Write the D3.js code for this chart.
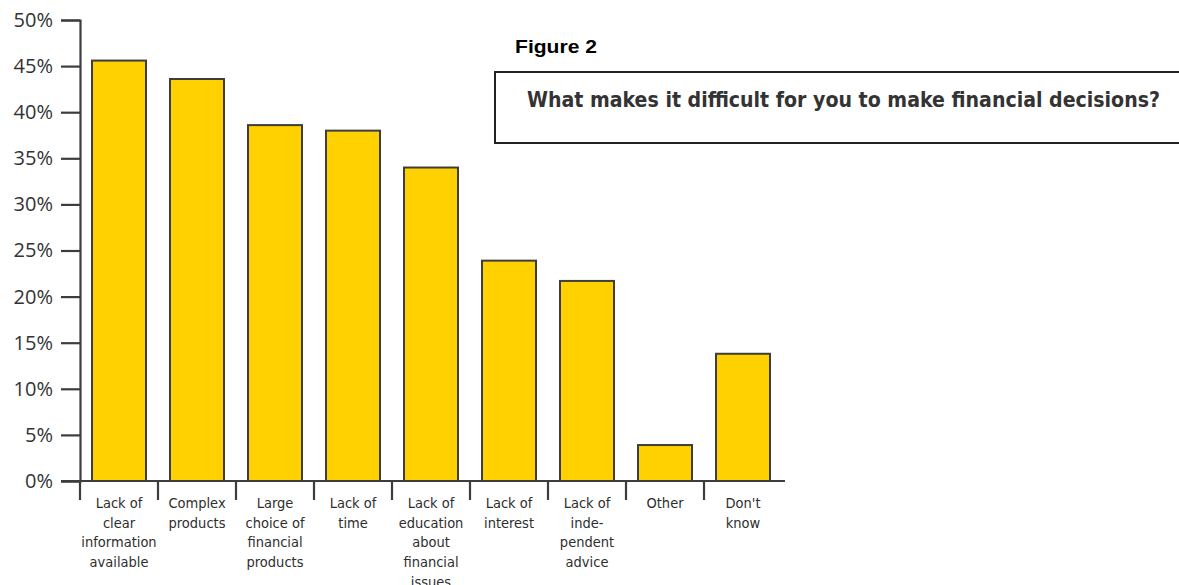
<!DOCTYPE html>
<html>
<head>
<meta charset="utf-8">
<script src="https://cdn.jsdelivr.net/npm/d3@7"></script>
<style>
  html, body { margin: 0; padding: 0; background: #fff; }
  svg { display: block; }
</style>
</head>
<body>
<svg id="chart" width="1179" height="585"></svg>
<script>
// Survey answers: what makes financial decisions difficult
const categories = [
  ["Lack of", "clear", "information", "available"],
  ["Complex", "products"],
  ["Large", "choice of", "financial", "products"],
  ["Lack of", "time"],
  ["Lack of", "education", "about", "financial", "issues"],
  ["Lack of", "interest"],
  ["Lack of", "inde-", "pendent", "advice"],
  ["Other"],
  ["Don't", "know"]
];
const shares = [45.6, 43.6, 38.6, 38.0, 34.0, 23.9, 21.7, 3.9, 13.8];
const yTicks = [0, 5, 10, 15, 20, 25, 30, 35, 40, 45, 50];
const figureLabel = "Figure 2";
const question = "What makes it difficult for you to make financial decisions?";

const svg = d3.select("#chart");
const ink = "#3d3d3d";
const narrow = "'Liberation Sans Narrow', 'DejaVu Sans Condensed', 'Liberation Sans', sans-serif";

const x0 = 80, x1 = 782, yTop = 20, yBase = 481;
const keys = categories.map((c, i) => i);

const x = d3.scaleBand()
  .domain(keys)
  .range([x0, x1])
  .paddingInner(0.3077)
  .paddingOuter(0.1538);

const y = d3.scaleLinear().domain([0, 50]).range([yBase, yTop]);

// Bars
svg.append("g")
  .selectAll("rect")
  .data(shares)
  .join("rect")
  .attr("x", (d, i) => x(i))
  .attr("y", d => y(d))
  .attr("width", x.bandwidth())
  .attr("height", d => y(0) - y(d))
  .attr("fill", "#FFD100")
  .attr("stroke", ink)
  .attr("stroke-width", 2);

// Y axis: ticks point left, labels right-aligned
const yAxis = svg.append("g")
  .attr("transform", `translate(${x0},0)`)
  .call(d3.axisLeft(y).tickValues(yTicks).tickFormat(d => d + "%").tickSize(19).tickPadding(8));
yAxis.select(".domain").attr("stroke", ink).attr("stroke-width", 2.2);
yAxis.selectAll(".tick line").attr("stroke", ink).attr("stroke-width", 2.2);
yAxis.selectAll(".tick text")
  .attr("fill", "#333")
  .style("font-family", "'Open Sans', 'Liberation Sans', sans-serif")
  .style("font-size", "20px");

// X axis: baseline with tick marks at band boundaries hanging below
const xAxis = svg.append("g").attr("transform", `translate(0,${yBase})`);
xAxis.append("line")
  .attr("x1", 61).attr("x2", 785)
  .attr("y1", 0).attr("y2", 0)
  .attr("stroke", ink).attr("stroke-width", 2.2);
xAxis.selectAll("line.sep")
  .data(keys)
  .join("line")
  .attr("class", "sep")
  .attr("x1", i => x(i) - x.step() * x.paddingOuter())
  .attr("x2", i => x(i) - x.step() * x.paddingOuter())
  .attr("y1", 0).attr("y2", 19)
  .attr("stroke", ink).attr("stroke-width", 2.2);

// Category labels, one tspan per line
const labels = xAxis.selectAll("text.cat")
  .data(categories)
  .join("text")
  .attr("class", "cat")
  .attr("text-anchor", "middle")
  .attr("fill", "#2e2e2e")
  .style("font-family", narrow)
  .style("font-size", "14.5px")
  .attr("transform", (d, i) => `translate(${x(i) + x.bandwidth() / 2},27)`);
labels.selectAll("tspan")
  .data(d => d)
  .join("tspan")
  .attr("x", 0)
  .attr("y", (d, j) => j * 19.7)
  .text(d => d);

// Figure caption
svg.append("text")
  .attr("x", 515).attr("y", 53)
  .attr("fill", "#000")
  .style("font-family", "'Liberation Sans', Arial, sans-serif")
  .style("font-weight", "bold")
  .style("font-size", "18px")
  .attr("textLength", 82)
  .attr("lengthAdjust", "spacingAndGlyphs")
  .text(figureLabel);

// Question box
svg.append("rect")
  .attr("x", 495).attr("y", 72)
  .attr("width", 700).attr("height", 71)
  .attr("fill", "#fff")
  .attr("stroke", "#222")
  .attr("stroke-width", 2);
svg.append("text")
  .attr("x", 527).attr("y", 107)
  .attr("fill", "#333")
  .style("font-family", narrow)
  .style("font-weight", "bold")
  .style("font-size", "21px")
  .attr("textLength", 633)
  .attr("lengthAdjust", "spacingAndGlyphs")
  .text(question);
</script>
</body>
</html>
